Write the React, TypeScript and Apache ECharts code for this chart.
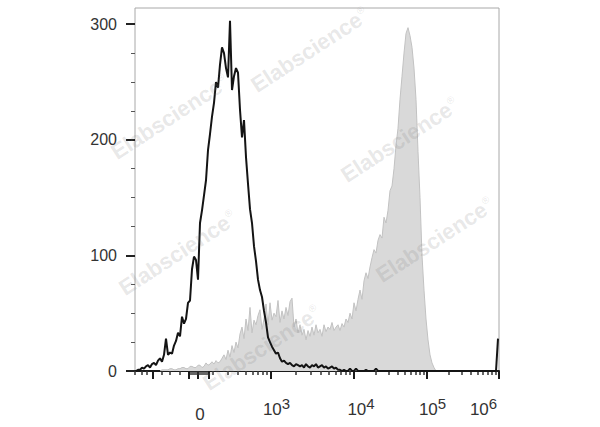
import React, { useEffect, useRef } from "react";
import * as echarts from "echarts";

// ---------- data (display channels 0..364, counts) ----------
const CHANNEL_MAX = 364;
const COUNT_MAX = 314;
const BIN_WIDTH = 2;

// unstained control (black outline)
const controlFirstChannel = 1;
const controlCounts = [
  0, 1, 1, 3, 2, 4, 5, 3, 6, 7,
  5, 9, 11, 8, 14, 28, 14, 16, 15, 22,
  26, 33, 30, 47, 41, 45, 59, 61, 88, 99,
  96, 79, 128, 139, 152, 165, 191, 205, 220, 232,
  250, 245, 265, 280, 275, 262, 254, 303, 243, 255,
  262, 258, 226, 202, 217, 185, 162, 140, 128, 108,
  95, 79, 70, 64, 52, 42, 29, 25, 21, 18,
  15, 16, 11, 8, 9, 7, 6, 7, 5, 4,
  6, 5, 4, 5, 3, 6, 4, 3, 5, 4,
  6, 3, 4, 5, 3, 4, 2, 3, 4, 2,
  3, 1, 1, 0, 1, 0, 0, 2, 0, 0,
  2, 0, 0, 0, 0, 1, 0, 0, 0, 0,
  2, 0, 0, 0, 0, 0, 0, 0, 0, 0,
  0, 0, 0, 0, 0, 0, 0, 0, 0, 0,
  0, 0, 0, 0, 0, 0, 0, 0, 0, 0,
  0, 0, 0, 0, 0, 0, 0, 0, 0, 0,
  0, 0, 0, 0, 0, 0, 0, 0, 0, 0,
  0, 0, 0, 0, 0, 0, 0, 0, 0, 0,
  0, 28,
];

// stained sample (grey filled)
const stainedFirstChannel = 25;
const stainedCounts = [
  0, 1, 1, 1, 1, 2, 2, 1, 1, 2,
  2, 3, 3, 2, 2, 4, 4, 3, 3, 5,
  5, 3, 4, 7, 5, 6, 8, 6, 9, 7,
  8, 11, 14, 10, 18, 12, 22, 16, 25, 20,
  32, 38, 28, 45, 35, 55, 33, 44, 40, 48,
  53, 36, 45, 58, 40, 59, 44, 50, 47, 61,
  42, 52, 45, 55, 48, 60, 63, 38, 45, 33,
  40, 31, 36, 27, 35, 30, 38, 31, 40, 33,
  36, 30, 40, 34, 38, 36, 42, 35, 38, 40,
  35, 41, 38, 45, 42, 50, 45, 59, 52, 62,
  70, 62, 78, 85, 80, 90, 98, 105, 102, 113,
  118, 115, 133, 128, 139, 156, 160, 175, 195, 210,
  235, 255, 275, 292, 297, 290, 280, 262, 235, 190,
  150, 100, 70, 45, 27, 14, 7, 3, 0,
];

// ---------- axes ----------
const yMajorTicks = [0, 100, 200, 300];
const yMinorTicks = [25, 50, 75, 125, 150, 175, 225, 250, 275];

const xTickLabels = ["0", "10^3", "10^4", "10^5", "10^6"];
const xLabelChannels = [65, 141.5, 226, 297.5, 348.5];
const decadeChannels = [136, 219, 292, 364]; // 10^3, 10^4, 10^5, 10^6
const nearZeroMajor = [18, 54, 63, 74];
const negativeMinor = [0, 7, 12, 27, 35, 45];
const linearMinor = [56, 58, 60, 62, 64, 66, 68, 70, 72];
const subDecadeStart = 53;
const subDecadeWidth = 83;

const majorTickChannels = [...nearZeroMajor, ...decadeChannels];
const minorTickChannels: number[] = [...negativeMinor, ...linearMinor];
for (let k = 2; k <= 9; k++) minorTickChannels.push(subDecadeStart + subDecadeWidth * Math.log10(k));
for (let d = 0; d < decadeChannels.length - 1; d++) {
  const w = decadeChannels[d + 1] - decadeChannels[d];
  for (let k = 2; k <= 9; k++) minorTickChannels.push(decadeChannels[d] + w * Math.log10(k));
}

const watermarkCenters = [
  [170, 117],
  [310, 50],
  [400, 140],
  [178, 253],
  [435, 240],
  [262, 348],
];

const FONT = "'Liberation Sans', Arial, Helvetica, sans-serif";

function toPairs(first: number, counts: number[]) {
  return counts.map((c, i) => [first + i * BIN_WIDTH, c]);
}

export default function App() {
  const ref = useRef<HTMLDivElement>(null);

  useEffect(() => {
    document.body.style.margin = "0";
    if (!ref.current) return;
    const chart = echarts.init(ref.current, undefined, { renderer: "svg" });

    const xFormatter = (v: number) => {
      let best = 0;
      for (let i = 1; i < xLabelChannels.length; i++) {
        if (Math.abs(xLabelChannels[i] - v) < Math.abs(xLabelChannels[best] - v)) best = i;
      }
      const t = xTickLabels[best];
      if (t.indexOf("^") < 0) return `{z|${t}}`;
      const [b, e] = t.split("^");
      return `{b|${b}}{s|${e}}`;
    };

    const option: any = {
      animation: false,
      backgroundColor: "#ffffff",
      grid: {
        left: 135,
        right: 101,
        top: 8,
        bottom: 56,
        show: true,
        borderColor: "#a8a8a8",
        borderWidth: 1,
        backgroundColor: "transparent",
      },
      xAxis: [
        {
          type: "value",
          position: "bottom",
          min: 0,
          max: CHANNEL_MAX,
          splitLine: { show: false },
          axisLine: { show: true, onZero: false, lineStyle: { color: "#1a1a1a", width: 2 } },
          axisTick: {
            show: true,
            length: 8,
            customValues: majorTickChannels,
            lineStyle: { color: "#1a1a1a", width: 2 },
          },
          axisLabel: {
            show: true,
            margin: 30,
            customValues: xLabelChannels,
            formatter: xFormatter,
            color: "#333",
            fontFamily: FONT,
            rich: {
              b: { fontSize: 17, lineHeight: 17, fontFamily: FONT, color: "#333", verticalAlign: "bottom" },
              s: { fontSize: 15, lineHeight: 15, fontFamily: FONT, color: "#333", padding: [0, 0, 12, 0] },
              z: { fontSize: 17, lineHeight: 17, fontFamily: FONT, color: "#333", padding: [10, 0, 0, 0] },
            },
          },
        },
        {
          type: "value",
          position: "bottom",
          min: 0,
          max: CHANNEL_MAX,
          splitLine: { show: false },
          axisLine: { show: false, onZero: false },
          axisLabel: { show: false },
          axisTick: {
            show: true,
            length: 4,
            customValues: minorTickChannels,
            lineStyle: { color: "#333", width: 1.5 },
          },
        },
      ],
      yAxis: [
        {
          type: "value",
          position: "left",
          min: 0,
          max: COUNT_MAX,
          splitLine: { show: false },
          axisLine: { show: false },
          axisTick: {
            show: true,
            length: 9,
            customValues: yMajorTicks,
            lineStyle: { color: "#222", width: 2 },
          },
          axisLabel: {
            show: true,
            margin: 18,
            customValues: yMajorTicks,
            fontSize: 16,
            fontFamily: FONT,
            color: "#333",
          },
        },
        {
          type: "value",
          position: "left",
          min: 0,
          max: COUNT_MAX,
          splitLine: { show: false },
          axisLine: { show: false },
          axisLabel: { show: false },
          axisTick: {
            show: true,
            length: 4,
            customValues: yMinorTicks,
            lineStyle: { color: "#555", width: 1 },
          },
        },
      ],
      series: [
        {
          type: "line",
          name: "stained",
          data: toPairs(stainedFirstChannel, stainedCounts),
          symbol: "none",
          lineStyle: { color: "#c2c2c2", width: 1 },
          areaStyle: { color: "#d9d9d9", opacity: 1 },
          z: 2,
        },
        {
          type: "line",
          name: "control",
          data: toPairs(controlFirstChannel, controlCounts),
          symbol: "none",
          lineStyle: { color: "#141414", width: 2 },
          z: 3,
        },
      ],
      graphic: watermarkCenters.map(([x, y]) => ({
        type: "text",
        x,
        y,
        rotation: (33 * Math.PI) / 180,
        silent: true,
        z: 100,
        style: {
          text: "{a|Elabscience}{r|®}",
          align: "center",
          verticalAlign: "middle",
          fill: "rgba(120,120,120,0.18)",
          rich: {
            a: { fontSize: 22, fontWeight: "bold", fontFamily: FONT, fill: "rgba(120,120,120,0.18)" },
            r: { fontSize: 10, fontFamily: FONT, fill: "rgba(120,120,120,0.18)", padding: [0, 0, 12, 1] },
          },
        },
      })),
    };

    chart.setOption(option);
    return () => chart.dispose();
  }, []);

  return <div ref={ref} style={{ width: 600, height: 427 }} />;
}
